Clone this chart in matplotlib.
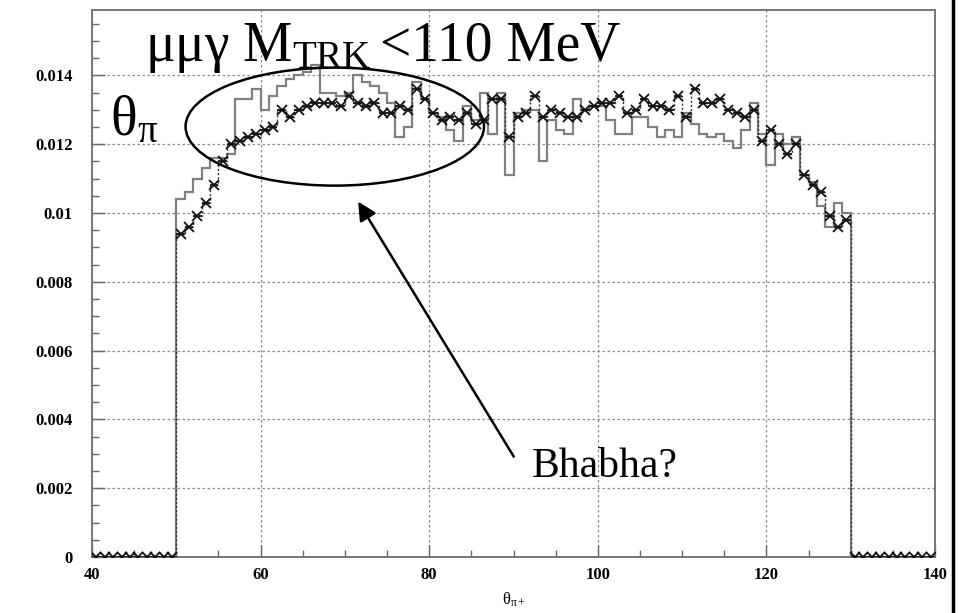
import numpy as np
import matplotlib.pyplot as plt
from matplotlib.patches import Ellipse
from matplotlib.lines import Line2D
from matplotlib.ticker import MultipleLocator

plt.rcParams['font.family'] = ['Liberation Serif', 'DejaVu Serif']
plt.rcParams['mathtext.fontset'] = 'custom'
plt.rcParams['mathtext.rm'] = 'Liberation Serif'
plt.rcParams['mathtext.it'] = 'Liberation Serif:italic'

# theta_pi+ binning, 1 degree bins
bin_lo = 50
bin_hi = 130
range_lo = 40
range_hi = 140

# solid (gray) histogram, bins 50..129
mc_vals = [0.0104, 0.0106, 0.0110, 0.0113, 0.0116, 0.0116, 0.0117, 0.0133, 0.0133, 0.0136,
           0.0130, 0.0134, 0.0137, 0.0139, 0.0140, 0.0141, 0.0143, 0.0135, 0.0135, 0.0134,
           0.0135, 0.0140, 0.0138, 0.0137, 0.0135, 0.0132, 0.0122, 0.0125, 0.0138, 0.0133,
           0.0129, 0.0128, 0.0124, 0.0121, 0.0131, 0.0127, 0.0135, 0.0123, 0.0135, 0.0111,
           0.0129, 0.0130, 0.0130, 0.0115, 0.0127, 0.0124, 0.0123, 0.0133, 0.0130, 0.0131,
           0.0131, 0.0127, 0.0123, 0.0123, 0.0128, 0.0128, 0.0125, 0.0122, 0.0124, 0.0122,
           0.0129, 0.0126, 0.0123, 0.0122, 0.0123, 0.0121, 0.0119, 0.0124, 0.0132, 0.0123,
           0.0114, 0.0123, 0.0120, 0.0122, 0.0111, 0.0109, 0.0102, 0.0096, 0.0103, 0.0100]

# data points (x markers), bins 50..129
data_vals = [0.0094, 0.0096, 0.0099, 0.0103, 0.0108, 0.0115, 0.0120, 0.0121, 0.0122, 0.0123,
             0.0124, 0.0125, 0.0130, 0.0128, 0.0130, 0.0131, 0.0132, 0.0132, 0.0132, 0.0131,
             0.0134, 0.0132, 0.0131, 0.0132, 0.0129, 0.0129, 0.0131, 0.0130, 0.0136, 0.0133,
             0.0129, 0.0127, 0.0128, 0.0127, 0.0129, 0.0126, 0.0127, 0.0133, 0.0133, 0.0122,
             0.0128, 0.0129, 0.0134, 0.0128, 0.0130, 0.0129, 0.0128, 0.0128, 0.0130, 0.0131,
             0.0132, 0.0132, 0.0134, 0.0129, 0.0130, 0.0133, 0.0131, 0.0131, 0.0130, 0.0134,
             0.0128, 0.0136, 0.0132, 0.0132, 0.0133, 0.0130, 0.0129, 0.0128, 0.0130, 0.0121,
             0.0124, 0.0120, 0.0117, 0.0120, 0.0111, 0.0108, 0.0106, 0.0099, 0.0096, 0.0098]

# empty bins on both sides
zeros_lo = [0.0] * (bin_lo - range_lo)
zeros_hi = [0.0] * (range_hi - bin_hi)

xticks = [40, 60, 80, 100, 120, 140]
xtick_labels = ['40', '60', '80', '100', '120', '140']
yticks = [0, 0.002, 0.004, 0.006, 0.008, 0.010, 0.012, 0.014]
ytick_labels = ['0', '0.002', '0.004', '0.006', '0.008', '0.01', '0.012', '0.014']

fig = plt.figure(figsize=(9.63, 6.13), dpi=100)
ax = fig.add_axes([92 / 963, 1 - 557 / 613, (935 - 92) / 963, (557 - 10) / 613])

mc_edges = np.arange(bin_lo, bin_hi + 1)
ax.stairs(mc_vals, mc_edges, baseline=0, color='#808080', lw=1.6, zorder=3)

all_edges = np.arange(range_lo, range_hi + 1)
data_full = np.array(zeros_lo + data_vals + zeros_hi)
centers = all_edges[:-1] + 0.5
ax.stairs(data_full, all_edges, baseline=None, color='#333333', lw=1.0,
          linestyle=(0, (1.5, 1.5)), zorder=4)
ax.errorbar(centers, data_full, xerr=0.5, fmt='x', color='#111111', ms=7, mew=1.3,
            elinewidth=1.3, capsize=0, zorder=5)

ax.set_xlim(range_lo, range_hi)
ax.set_ylim(0, 0.0159)
ax.set_xticks(xticks)
ax.set_xticklabels(xtick_labels)
ax.set_yticks(yticks)
ax.set_yticklabels(ytick_labels)
ax.xaxis.set_minor_locator(MultipleLocator(5))
ax.yaxis.set_minor_locator(MultipleLocator(0.0005))
ax.tick_params(which='major', direction='in', length=9, width=1, color='#666666',
               labelsize=12, pad=7)
ax.tick_params(which='minor', direction='in', length=5, width=1, color='#666666')
for lab in ax.get_xticklabels() + ax.get_yticklabels():
    lab.set_fontweight('bold')
ax.tick_params(axis='y', pad=14)
ax.grid(True, which='major', color='#8a8a8a', linestyle=(0, (2, 2)), linewidth=0.9)
for sp in ax.spines.values():
    sp.set_color('#777777')
    sp.set_linewidth(1.4)

ax.set_xlabel(r'$\mathrm{\theta}_{\mathrm{\pi +}}$', fontsize=12, labelpad=6)

# slide annotations
ax.text(46.3, 0.01443, r'$\mathrm{μμγ\ M_{TRK}}$', fontsize=40, va='baseline')
ax.text(74.2, 0.01443, '<110 MeV', fontsize=40, va='baseline')
ax.text(42.1, 0.01225, r'$\mathrm{θ}_{\mathrm{π}}$', fontsize=40, va='baseline')
ax.text(92.2, 0.00232, 'Bhabha?', fontsize=30, va='baseline')
ax.add_patch(Ellipse((68.8, 0.01251), 35.4, 0.00343, fill=False, ec='black', lw=1.8, zorder=6))
ax.annotate('', xy=(71.4, 0.01040), xytext=(90.2, 0.00285),
            arrowprops=dict(arrowstyle='-|>', color='black', lw=1.8, mutation_scale=28))

fig.add_artist(Line2D([953 / 963, 953 / 963], [0, 1], transform=fig.transFigure,
                      color='black', lw=2.5))

fig.savefig('out.png', dpi=100)
